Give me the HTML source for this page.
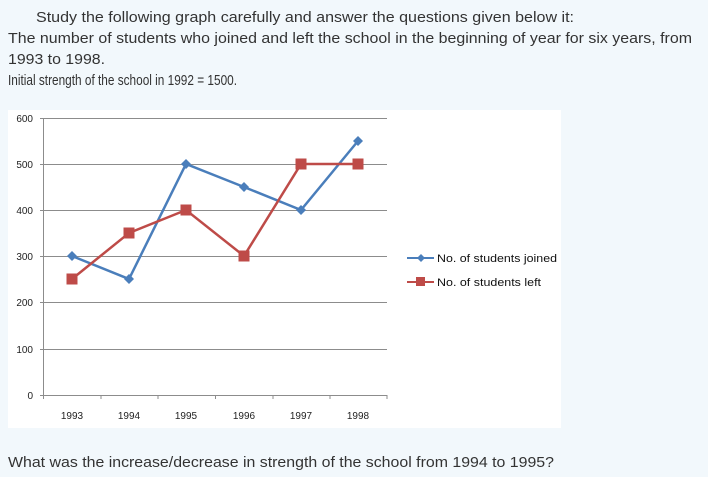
<!DOCTYPE html>
<html><head><style>body{margin:0;background:#f2f8fc}svg{display:block}</style></head><body>
<svg width="708" height="477" xmlns="http://www.w3.org/2000/svg" font-family="Liberation Sans, sans-serif">
<rect width="708" height="477" fill="#f2f8fc"/>
<g fill="#333" font-size="15">
<text x="36" y="22" textLength="538" lengthAdjust="spacingAndGlyphs">Study the following graph carefully and answer the questions given below it:</text>
<text x="8" y="43" textLength="684" lengthAdjust="spacingAndGlyphs">The number of students who joined and left the school in the beginning of year for six years, from</text>
<text x="8" y="64" textLength="97" lengthAdjust="spacingAndGlyphs">1993 to 1998.</text>
<text x="8" y="85" textLength="229" lengthAdjust="spacingAndGlyphs">Initial strength of the school in 1992 = 1500.</text>
<text x="8" y="467" textLength="546" lengthAdjust="spacingAndGlyphs">What was the increase/decrease in strength of the school from 1994 to 1995?</text>
</g>
<rect x="8" y="110" width="553" height="318" fill="#fff"/>
<g stroke="#8c8c8c" stroke-width="1">
<line x1="40" y1="118.5" x2="387" y2="118.5"/>
<line x1="40" y1="164.5" x2="387" y2="164.5"/>
<line x1="40" y1="210.5" x2="387" y2="210.5"/>
<line x1="40" y1="256.5" x2="387" y2="256.5"/>
<line x1="40" y1="302.5" x2="387" y2="302.5"/>
<line x1="40" y1="349.5" x2="387" y2="349.5"/>
<line x1="40" y1="395.5" x2="387" y2="395.5"/>
<line x1="43.5" y1="118" x2="43.5" y2="395"/>
<line x1="43.5" y1="395" x2="43.5" y2="399"/><line x1="101" y1="395" x2="101" y2="399"/><line x1="158" y1="395" x2="158" y2="399"/><line x1="215.5" y1="395" x2="215.5" y2="399"/><line x1="273" y1="395" x2="273" y2="399"/><line x1="330" y1="395" x2="330" y2="399"/><line x1="387" y1="395" x2="387" y2="399"/>
</g>
<g font-size="10" fill="#222" text-anchor="end">
<text x="33" y="122">600</text><text x="33" y="168">500</text><text x="33" y="214">400</text><text x="33" y="260">300</text><text x="33" y="306">200</text><text x="33" y="353">100</text><text x="33" y="399">0</text>
</g>
<g font-size="10" fill="#222" text-anchor="middle">
<text x="72" y="419">1993</text><text x="129" y="419">1994</text><text x="186" y="419">1995</text><text x="244" y="419">1996</text><text x="301" y="419">1997</text><text x="358" y="419">1998</text>
</g>
<polyline points="72,256 129,279 186,164 244,187 301,210 358,141" fill="none" stroke="#4a7ebb" stroke-width="2.5"/>
<polyline points="72,279 129,233 186,210 244,256 301,164 358,164" fill="none" stroke="#be4b48" stroke-width="2.5"/>
<g fill="#4a7ebb">
<path d="M72 251l5 5-5 5-5-5z"/><path d="M129 274l5 5-5 5-5-5z"/><path d="M186 159l5 5-5 5-5-5z"/><path d="M244 182l5 5-5 5-5-5z"/><path d="M301 205l5 5-5 5-5-5z"/><path d="M358 136l5 5-5 5-5-5z"/>
</g>
<g fill="#be4b48">
<rect x="66.5" y="273.5" width="11" height="11"/><rect x="123.5" y="227.5" width="11" height="11"/><rect x="180.5" y="204.5" width="11" height="11"/><rect x="238.5" y="250.5" width="11" height="11"/><rect x="295.5" y="158.5" width="11" height="11"/><rect x="352.5" y="158.5" width="11" height="11"/>
</g>
<line x1="407" y1="258" x2="434" y2="258" stroke="#4a7ebb" stroke-width="2"/>
<path d="M421 254l4 4-4 4-4-4z" fill="#4a7ebb"/>
<line x1="407" y1="282" x2="434" y2="282" stroke="#be4b48" stroke-width="2"/>
<rect x="416" y="277" width="9" height="9" fill="#be4b48"/>
<g font-size="11" fill="#111">
<text x="437" y="262" textLength="120" lengthAdjust="spacingAndGlyphs">No. of students joined</text>
<text x="437" y="286" textLength="104" lengthAdjust="spacingAndGlyphs">No. of students left</text>
</g>
</svg>
</body></html>
